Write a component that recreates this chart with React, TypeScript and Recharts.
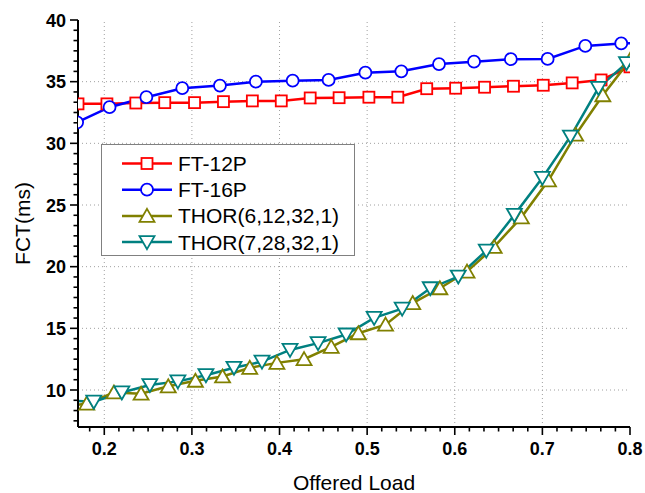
import React from "react";
import { LineChart, Line, XAxis, YAxis, ReferenceLine } from "recharts";

// axis layout
const xDomain = [0.17, 0.8];
const yDomain = [7, 40];
const xMajor = [0.2, 0.3, 0.4, 0.5, 0.6, 0.7, 0.8];
const yMajor = [10, 15, 20, 25, 30, 35, 40];
const xGrid = [0.2, 0.3, 0.4, 0.5, 0.6, 0.7];
const yGrid = [10, 15, 20, 25, 30, 35];
const minorPerMajor = 6;

// series (first/last points of some series sit just outside the frame and get clipped)
const ft12pX = [0.17, 0.203, 0.236, 0.269, 0.303, 0.336, 0.369, 0.402, 0.435, 0.468, 0.502, 0.535, 0.568, 0.601, 0.634, 0.667, 0.701, 0.734, 0.767, 0.8];
const ft12pY = [33.2, 33.2, 33.27, 33.3, 33.3, 33.38, 33.44, 33.44, 33.68, 33.7, 33.74, 33.74, 34.43, 34.47, 34.55, 34.63, 34.71, 34.9, 35.14, 36.2];

const ft16pX = [0.169, 0.206, 0.248, 0.289, 0.332, 0.373, 0.415, 0.456, 0.498, 0.539, 0.582, 0.622, 0.664, 0.706, 0.749, 0.79, 0.832];
const ft16pY = [31.7, 32.93, 33.74, 34.47, 34.68, 35.0, 35.08, 35.14, 35.73, 35.84, 36.43, 36.62, 36.82, 36.84, 37.9, 38.1, 38.2];

const thorAX = [0.149, 0.18, 0.211, 0.242, 0.273, 0.304, 0.335, 0.366, 0.397, 0.428, 0.459, 0.49, 0.521, 0.552, 0.583, 0.614, 0.645, 0.676, 0.707, 0.738, 0.769, 0.8];
const thorAY = [8.6, 8.9, 9.8, 9.7, 10.3, 10.75, 11.1, 11.8, 12.2, 12.5, 13.5, 14.6, 15.3, 17.05, 18.25, 19.6, 21.6, 24.0, 27.0, 30.7, 33.9, 36.75];

const thorBX = [0.156, 0.188, 0.22, 0.252, 0.284, 0.316, 0.348, 0.38, 0.412, 0.444, 0.476, 0.508, 0.54, 0.572, 0.604, 0.636, 0.668, 0.7, 0.732, 0.764, 0.796];
const thorBY = [9.15, 9.05, 9.8, 10.4, 10.7, 11.2, 11.8, 12.3, 13.25, 13.8, 14.5, 15.85, 16.6, 18.25, 19.2, 21.3, 24.2, 27.2, 30.55, 34.5, 36.5];

const seriesNames = ["FT-12P", "FT-16P", "THOR(6,12,32,1)", "THOR(7,28,32,1)"];
const seriesColors = ["#ff0000", "#0000ff", "#808000", "#008080"];
const seriesShapes = ["square", "circle", "up", "down"];

const zip = (xs: number[], ys: number[]) => xs.map((x, i) => ({ x, y: ys[i] }));
const seriesData = [zip(ft12pX, ft12pY), zip(ft16pX, ft16pY), zip(thorAX, thorAY), zip(thorBX, thorBY)];

const FONT = "'Liberation Sans', Arial, sans-serif";

function withMinor(major: number[], lo: number, hi: number) {
  const step = (major[1] - major[0]) / minorPerMajor;
  const out: number[] = [];
  const start = major[0] - Math.floor((major[0] - lo) / step + 1e-9) * step;
  for (let i = 0; ; i++) {
    const v = start + i * step;
    if (v > hi + 1e-9) break;
    out.push(+v.toFixed(6));
  }
  return out;
}
const xTicks = withMinor(xMajor, xDomain[0], xDomain[1]);
const yTicks = withMinor(yMajor, yDomain[0], yDomain[1]);
const isMajor = (v: number, major: number[]) => major.some((m) => Math.abs(m - v) < 1e-6);

function Marker({ shape, cx, cy, color }: { shape: string; cx: number; cy: number; color: string }) {
  const common = { fill: "#fff", stroke: color, strokeWidth: 1.8 };
  if (shape === "square") return <rect x={cx - 5.5} y={cy - 5.5} width={11} height={11} {...common} />;
  if (shape === "circle") return <circle cx={cx} cy={cy} r={6} {...common} />;
  if (shape === "up")
    return <polygon points={`${cx},${cy - 7} ${cx + 7.5},${cy + 6} ${cx - 7.5},${cy + 6}`} {...common} />;
  return <polygon points={`${cx},${cy + 7} ${cx + 7.5},${cy - 6} ${cx - 7.5},${cy - 6}`} {...common} />;
}

const makeDot = (shape: string, color: string) => (p: any) =>
  <Marker key={`d-${p.index}`} shape={shape} cx={p.cx} cy={p.cy} color={color} />;

const BottomTick = ({ x, y, payload }: any) => {
  const major = isMajor(payload.value, xMajor);
  return (
    <g>
      <line x1={x} x2={x} y1={y} y2={y + (major ? 8 : 4.5)} stroke="#000" strokeWidth={1.6} />
      {major && (
        <text x={x} y={y + 28} textAnchor="middle" fontFamily={FONT} fontWeight="bold" fontSize={18} fill="#000">
          {payload.value.toFixed(1)}
        </text>
      )}
    </g>
  );
};

const TopTick = ({ x, y, payload }: any) => {
  const major = isMajor(payload.value, xMajor);
  return <line x1={x} x2={x} y1={y} y2={y + (major ? 6 : 3.5)} stroke="#000" strokeWidth={1.6} />;
};

const LeftTick = ({ x, y, payload }: any) => {
  const major = isMajor(payload.value, yMajor);
  return (
    <g>
      <line x1={x - (major ? 8 : 4.5)} x2={x} y1={y} y2={y} stroke="#000" strokeWidth={1.6} />
      {major && (
        <text x={x - 12} y={y + 6.5} textAnchor="end" fontFamily={FONT} fontWeight="bold" fontSize={18} fill="#000">
          {payload.value}
        </text>
      )}
    </g>
  );
};

const RightTick = ({ x, y, payload }: any) => {
  const major = isMajor(payload.value, yMajor);
  return <line x1={x - (major ? 6 : 3.5)} x2={x} y1={y} y2={y} stroke="#000" strokeWidth={1.6} />;
};

function LegendBox() {
  return (
    <div
      style={{
        position: "absolute",
        left: 101,
        top: 144,
        width: 254,
        height: 112,
        boxSizing: "border-box",
        border: "1px solid #808080",
        background: "#fff",
      }}
    >
      <svg width={252} height={110}>
        {seriesNames.map((name, i) => {
          const cy = 18.5 + i * 26.2;
          return (
            <g key={name}>
              <line x1={20} x2={70} y1={cy} y2={cy} stroke={seriesColors[i]} strokeWidth={2.5} />
              <Marker shape={seriesShapes[i]} cx={45} cy={cy} color={seriesColors[i]} />
              <text x={76} y={cy + 7.5} fontFamily={FONT} fontSize={21} fill="#000">
                {name}
              </text>
            </g>
          );
        })}
      </svg>
    </div>
  );
}

export default function App() {
  return (
    <div style={{ position: "fixed", left: 0, top: 0, width: 645, height: 493, background: "#fff" }}>
      <LineChart width={645} height={493} margin={{ top: 20, right: 15, bottom: 6, left: 8 }}>
        <XAxis
          xAxisId={0}
          dataKey="x"
          type="number"
          domain={xDomain}
          allowDataOverflow
          ticks={xTicks}
          interval={0}
          height={60}
          tickSize={0}
          tickMargin={0}
          tickLine={false}
          tick={BottomTick}
          axisLine={{ stroke: "#000", strokeWidth: 2 }}
          label={{
            content: ({ viewBox }: any) => (
              <text x={viewBox.x + viewBox.width / 2} y={viewBox.y + 63} textAnchor="middle" fontFamily={FONT} fontSize={21} fill="#000">
                Offered Load
              </text>
            ),
          }}
        />
        <XAxis
          xAxisId="top"
          orientation="top"
          dataKey="x"
          type="number"
          domain={xDomain}
          allowDataOverflow
          ticks={xTicks}
          interval={0}
          height={0}
          tickSize={0}
          tickMargin={0}
          tickLine={false}
          tick={TopTick}
          axisLine={{ stroke: "#000", strokeWidth: 2 }}
        />
        <YAxis
          yAxisId={0}
          type="number"
          domain={yDomain}
          allowDataOverflow
          ticks={yTicks}
          interval={0}
          width={70}
          tickSize={0}
          tickMargin={0}
          tickLine={false}
          tick={LeftTick}
          axisLine={{ stroke: "#000", strokeWidth: 2 }}
          label={{
            content: ({ viewBox }: any) => {
              const cx = 30;
              const cy = viewBox.y + viewBox.height / 2;
              return (
                <text x={cx} y={cy} transform={`rotate(-90, ${cx}, ${cy})`} textAnchor="middle" fontFamily={FONT} fontSize={21} fill="#000">
                  FCT(ms)
                </text>
              );
            },
          }}
        />
        <YAxis
          yAxisId="right"
          orientation="right"
          type="number"
          domain={yDomain}
          allowDataOverflow
          ticks={yTicks}
          interval={0}
          width={0}
          tickSize={0}
          tickMargin={0}
          tickLine={false}
          tick={RightTick}
          axisLine={{ stroke: "#000", strokeWidth: 2 }}
        />
        {xGrid.map((v) => (
          <ReferenceLine key={`gx${v}`} x={v} stroke="#a0a0a0" strokeDasharray="1 3" strokeWidth={1} />
        ))}
        {yGrid.map((v) => (
          <ReferenceLine key={`gy${v}`} y={v} stroke="#a0a0a0" strokeDasharray="1 3" strokeWidth={1} />
        ))}
        {seriesNames.map((name, i) => (
          <Line
            key={name}
            name={name}
            data={seriesData[i]}
            dataKey="y"
            type="linear"
            stroke={seriesColors[i]}
            strokeWidth={2.5}
            dot={makeDot(seriesShapes[i], seriesColors[i])}
            activeDot={false}
            isAnimationActive={false}
          />
        ))}
      </LineChart>
      <LegendBox />
    </div>
  );
}
